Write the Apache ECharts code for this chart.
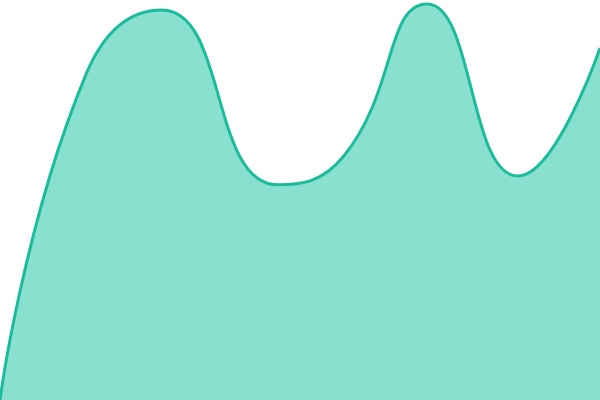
<!DOCTYPE html>
<html>
<head>
<meta charset="utf-8">
<script src="https://cdn.jsdelivr.net/npm/echarts@6/dist/echarts.min.js"></script>
<style>html,body{margin:0;padding:0;background:#fff;}#c{width:600px;height:400px;}</style>
</head>
<body>
<div id="c"></div>
<script>
const xValues = [0, 14.3, 27, 46.3, 57.2, 71.2, 86.3, 100];
const yValues = [0, 81.3, 97.5, 53.8, 60.8, 99, 56, 88];

const seriesData = xValues.map((x, i) => [x, yValues[i]]);

const chart = echarts.init(document.getElementById('c'));
chart.setOption({
  animation: false,
  grid: { left: 0, right: 0, top: 0, bottom: 0 },
  xAxis: { type: 'value', min: 0, max: 100, show: false },
  yAxis: { type: 'value', min: 0, max: 100, show: false },
  series: [{
    type: 'line',
    data: seriesData,
    smooth: true,
    symbol: 'none',
    lineStyle: { color: '#1abc9c', width: 3 },
    areaStyle: { color: '#8ae0cf', opacity: 1 }
  }]
});
</script>
</body>
</html>
